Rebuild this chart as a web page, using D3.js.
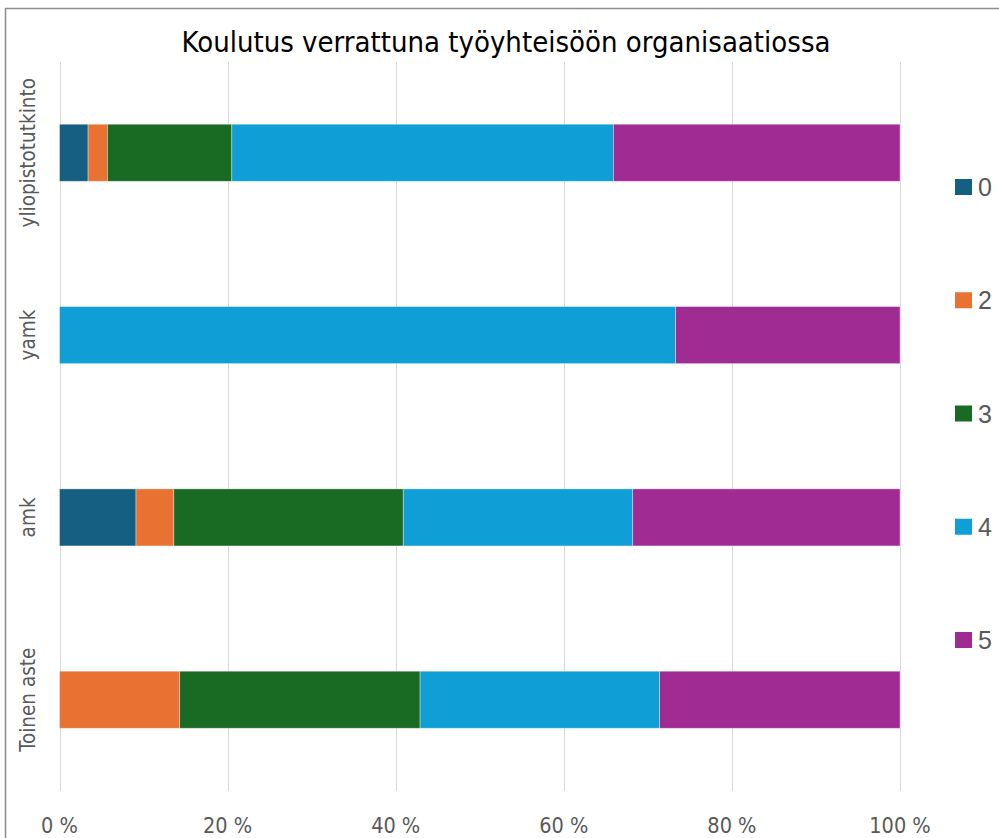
<!DOCTYPE html>
<html><head><meta charset="utf-8">
<script src="https://cdn.jsdelivr.net/npm/d3@7"></script>
<style>html,body{margin:0;padding:0;background:#fff;}svg{display:block;}</style>
</head><body><svg id="c" width="999" height="838"></svg>
<script>
const title = "Koulutus verrattuna työyhteisöön organisaatiossa";
const categories = ["yliopistotutkinto", "yamk", "amk", "Toinen aste"];
const seriesNames = ["0", "2", "3", "4", "5"];
const seriesColors = ["#156082", "#E97132", "#196B24", "#0F9ED5", "#A02B93"];
// percentage shares per category, in series order
const s0 = [3.4, 0, 9.1, 0];
const s2 = [2.3, 0, 4.5, 14.3];
const s3 = [14.8, 0, 27.3, 28.6];
const s4 = [45.4, 73.3, 27.3, 28.5];
const s5 = [34.1, 26.7, 31.8, 28.6];
const tickValues = [0, 20, 40, 60, 80, 100];
const tickLabels = ["0 %", "20 %", "40 %", "60 %", "80 %", "100 %"];

const seriesValues = [s0, s2, s3, s4, s5];
const rows = categories.map((c, i) => {
  const r = {cat: c};
  seriesNames.forEach((s, j) => r[s] = seriesValues[j][i]);
  return r;
});

const svg = d3.select("#c");
const font = "'DejaVu Sans Condensed','Liberation Sans Narrow','Liberation Sans',sans-serif";
const grey = "#595959";

// frame
svg.append("path").attr("d", "M5.5,838 L5.5,8.5 L999,8.5").attr("fill", "none").attr("stroke", "#8c8c8c").attr("stroke-width", 1.5);

const x = d3.scaleLinear().domain([0, 100]).range([59.5, 900]);
const y = d3.scaleBand().domain(categories).range([61.6, 790.9]).paddingInner(0.687).paddingOuter(0.3435);

// gridlines
svg.append("g").selectAll("line").data(tickValues).join("line")
  .attr("x1", d => Math.round(x(d)) + 0.5).attr("x2", d => Math.round(x(d)) + 0.5)
  .attr("y1", 62).attr("y2", 791)
  .attr("stroke", "#d9d9d9").attr("stroke-width", 1);

// stacked bars
const stack = d3.stack().keys(seriesNames)(rows);
const g = svg.append("g");
stack.forEach((layer, j) => {
  g.append("g").attr("fill", seriesColors[j]).selectAll("rect").data(layer).join("rect")
    .attr("x", d => x(d[0]))
    .attr("width", d => Math.max(0, x(d[1]) - x(d[0])))
    .attr("y", d => y(d.data.cat))
    .attr("height", y.bandwidth())
    .attr("stroke", "#ffffff").attr("stroke-opacity", 0.45).attr("stroke-width", 0.8);
});

// x tick labels
svg.append("g").selectAll("text").data(tickValues).join("text")
  .attr("x", d => x(d)).attr("y", 833)
  .attr("text-anchor", "middle")
  .attr("font-family", font).attr("font-size", 21.5).attr("fill", grey)
  .text((d, i) => tickLabels[i]);

// category labels (rotated)
svg.append("g").selectAll("text").data(categories).join("text")
  .attr("transform", d => `translate(35,${y(d) + y.bandwidth() / 2}) rotate(-90)`)
  .attr("text-anchor", "middle")
  .attr("font-family", font).attr("font-size", 20.5).attr("fill", grey)
  .text(d => d);

// title
svg.append("text").attr("x", 506).attr("y", 52).attr("text-anchor", "middle")
  .attr("font-family", font).attr("font-size", 29).attr("fill", "#000")
  .text(title);

// legend
const legendY = d3.scalePoint().domain(seriesNames).range([187, 640]);
const lg = svg.append("g").selectAll("g").data(seriesNames).join("g")
  .attr("transform", d => `translate(955,${legendY(d)})`);
lg.append("rect").attr("x", 0).attr("y", -8).attr("width", 17).attr("height", 16)
  .attr("fill", (d, i) => seriesColors[i]);
lg.append("text").attr("x", 23).attr("y", 9)
  .attr("font-family", "'Liberation Sans',Arial,sans-serif").attr("font-size", 25).attr("fill", grey)
  .text(d => d);
</script></body></html>
